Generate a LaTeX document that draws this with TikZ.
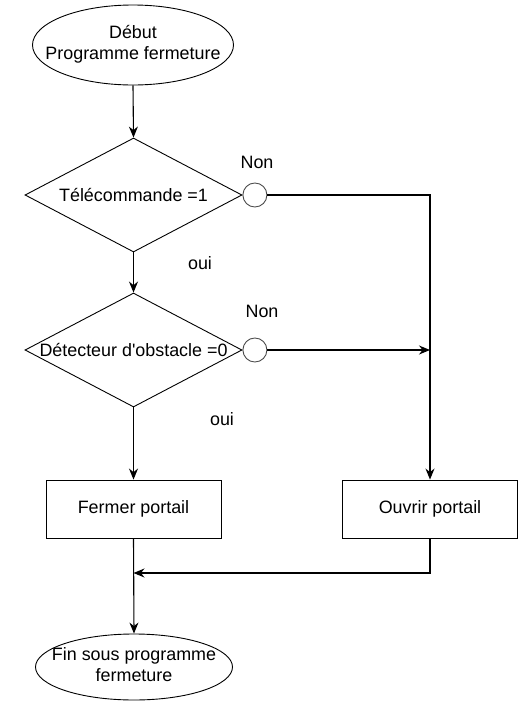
\documentclass[tikz,border=0pt]{standalone}
\usepackage{fontspec}
\setmainfont{Liberation Sans}
\usetikzlibrary{positioning,shapes.geometric,arrows.meta,calc}

\begin{document}
\begin{tikzpicture}[x=1pt,y=-1pt,line width=1.1pt,
    font=\fontsize{17.9}{21}\selectfont,
    fleche/.style={-{Stealth[length=11pt,width=9pt]}},
    debfin/.style={ellipse,draw,inner sep=0pt,line width=0.9pt},
    test/.style={diamond,draw,inner sep=0pt,minimum width=217pt,minimum height=114pt,line width=0.9pt},
    rond/.style={circle,draw,inner sep=0pt,minimum size=24pt,line width=0.9pt,draw=black!70},
    bloc/.style={rectangle,draw,inner sep=0pt,minimum width=175pt,minimum height=58pt,line width=0.9pt}]
      \useasboundingbox (0,0) rectangle (522,702);
      \node[debfin,minimum width=201pt,minimum height=80pt] (debut) at (133,45)
        {\makebox[0pt]{\begin{tabular}{@{}c@{}}Début\\Programme fermeture\end{tabular}}};
      \node[test] (tele) at (133.5,195) {\makebox[0pt]{Télécommande =1}};
      \node[rond,right=0pt of tele.east] (c1) {};
      \node (non1) at (257,162) {Non};
      \node (oui1) at (200,263) {oui};
      \node[test] (obst) at (133.5,350) {\makebox[0pt]{Détecteur d\textquotesingle obstacle =0}};
      \node[rond,right=0pt of obst.east] (c2) {};
      \node (non2) at (262,311) {Non};
      \node (oui2) at (222,419) {oui};
      \node[bloc] (fermer) at (133.5,509) {Fermer portail};
      \node[bloc] (ouvrir) at (430,509) {Ouvrir portail};
      \coordinate (jonction) at (133.5,573);
      \node[debfin,minimum width=197pt,minimum height=66pt] (fin) at (134,667)
        {\makebox[0pt]{\begin{tabular}{@{}c@{}}Fin sous programme\\fermeture\end{tabular}}};
      \draw[fleche] (debut.south) -- (tele.north);
      \draw[fleche] (tele.south) -- (obst.north);
      \draw[fleche] (obst.south) -- (fermer.north);
      \draw[fleche] (c1.east) -| (ouvrir.north);
      \draw[fleche] (c2.east) -- (c2.east -| ouvrir.north);
      \draw[fleche] (ouvrir.south) |- (jonction);
      \draw[fleche] (fermer.south) -- (fin.north);
    \end{tikzpicture}
\end{document}
